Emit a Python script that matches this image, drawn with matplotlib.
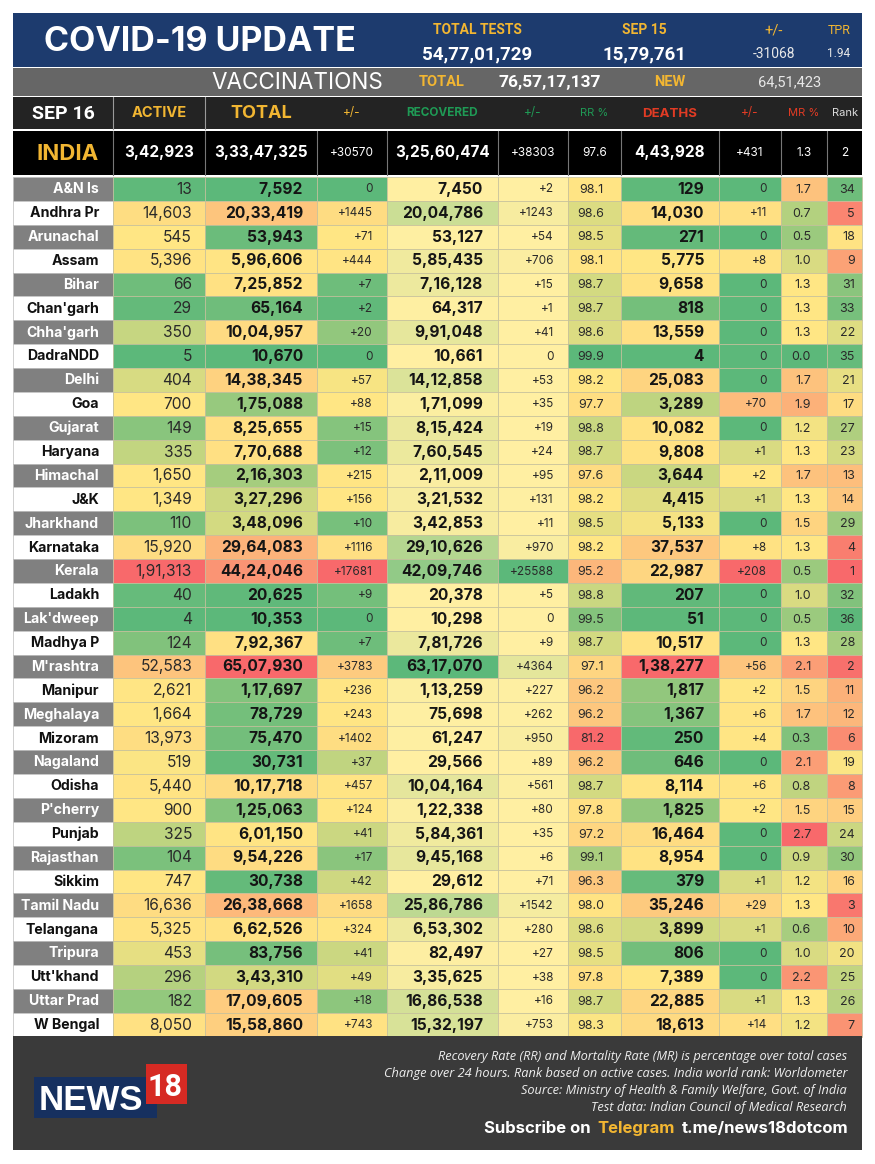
"""COVID-19 state table for India, Sep 16, drawn as heat-coloured cells."""

import matplotlib

matplotlib.use("Agg")
import matplotlib.pyplot as plt
import numpy as np
from matplotlib.colors import LinearSegmentedColormap, TwoSlopeNorm, Normalize
from matplotlib.patches import Rectangle

STATES = ["A&N Is", "Andhra Pr", "Arunachal", "Assam", "Bihar", "Chan'garh", "Chha'garh", "DadraNDD",
          "Delhi", "Goa", "Gujarat", "Haryana", "Himachal", "J&K", "Jharkhand", "Karnataka", "Kerala",
          "Ladakh", "Lak'dweep", "Madhya P", "M'rashtra", "Manipur", "Meghalaya", "Mizoram", "Nagaland",
          "Odisha", "P'cherry", "Punjab", "Rajasthan", "Sikkim", "Tamil Nadu", "Telangana", "Tripura",
          "Utt'khand", "Uttar Prad", "W Bengal"]
ACTIVE = [13, 14603, 545, 5396, 66, 29, 350, 5, 404, 700, 149, 335, 1650, 1349, 110, 15920, 191313,
          40, 4, 124, 52583, 2621, 1664, 13973, 519, 5440, 900, 325, 104, 747, 16636, 5325, 453, 296, 182, 8050]
TOTAL = [7592, 2033419, 53943, 596606, 725852, 65164, 1004957, 10670, 1438345, 175088, 825655, 770688,
         216303, 327296, 348096, 2964083, 4424046, 20625, 10353, 792367, 6507930, 117697, 78729, 75470,
         30731, 1017718, 125063, 601150, 954226, 30738, 2638668, 662526, 83756, 343310, 1709605, 1558860]
TOTAL_CHG = [0, 1445, 71, 444, 7, 2, 20, 0, 57, 88, 15, 12, 215, 156, 10, 1116, 17681, 9, 0, 7, 3783,
             236, 243, 1402, 37, 457, 124, 41, 17, 42, 1658, 324, 41, 49, 18, 743]
RECOVERED = [7450, 2004786, 53127, 585435, 716128, 64317, 991048, 10661, 1412858, 171099, 815424, 760545,
             211009, 321532, 342853, 2910626, 4209746, 20378, 10298, 781726, 6317070, 113259, 75698, 61247,
             29566, 1004164, 122338, 584361, 945168, 29612, 2586786, 653302, 82497, 335625, 1686538, 1532197]
RECOVERED_CHG = [2, 1243, 54, 706, 15, 1, 41, 0, 53, 35, 19, 24, 95, 131, 11, 970, 25588, 5, 0, 9, 4364,
                 227, 262, 950, 89, 561, 80, 35, 6, 71, 1542, 280, 27, 38, 16, 753]
RR = [98.1, 98.6, 98.5, 98.1, 98.7, 98.7, 98.6, 99.9, 98.2, 97.7, 98.8, 98.7, 97.6, 98.2, 98.5, 98.2, 95.2,
      98.8, 99.5, 98.7, 97.1, 96.2, 96.2, 81.2, 96.2, 98.7, 97.8, 97.2, 99.1, 96.3, 98.0, 98.6, 98.5, 97.8, 98.7, 98.3]
DEATHS = [129, 14030, 271, 5775, 9658, 818, 13559, 4, 25083, 3289, 10082, 9808, 3644, 4415, 5133, 37537, 22987,
          207, 51, 10517, 138277, 1817, 1367, 250, 646, 8114, 1825, 16464, 8954, 379, 35246, 3899, 806, 7389,
          22885, 18613]
DEATHS_CHG = [0, 11, 0, 8, 0, 0, 0, 0, 0, 70, 0, 1, 2, 1, 0, 8, 208, 0, 0, 0, 56, 2, 6, 4, 0, 6, 2, 0, 0, 1,
              29, 1, 0, 0, 1, 14]
MR = [1.7, 0.7, 0.5, 1.0, 1.3, 1.3, 1.3, 0.0, 1.7, 1.9, 1.2, 1.3, 1.7, 1.3, 1.5, 1.3, 0.5, 1.0, 0.5, 1.3, 2.1,
      1.5, 1.7, 0.3, 2.1, 0.8, 1.5, 2.7, 0.9, 1.2, 1.3, 0.6, 1.0, 2.2, 1.3, 1.2]
RANK = [34, 5, 18, 9, 31, 33, 22, 35, 21, 17, 27, 23, 13, 14, 29, 4, 1, 32, 36, 28, 2, 11, 12, 6, 19, 8, 15, 24,
        30, 16, 3, 10, 20, 25, 26, 7]

INDIA_ROW = ["3,42,923", "3,33,47,325", "+30570", "3,25,60,474", "+38303", "97.6", "4,43,928", "+431", "1.3", "2"]
COL_HEADERS = ["ACTIVE", "TOTAL", "+/-", "RECOVERED", "+/-", "RR %", "DEATHS", "+/-", "MR %", "Rank"]
FOOTNOTES = ["Recovery Rate (RR) and Mortality Rate (MR) is percentage over total cases",
             "Change over 24 hours. Rank based on active cases. India world rank: Worldometer",
             "Source: Ministry of Health & Family Welfare, Govt. of India",
             "Test data: Indian Council of Medical Research"]

GREEN, YELLOW, RED, PALE = "#5CB87A", "#FFE684", "#F8696B", "#FFEFA2"
GOLD = "#f2b632"
three = LinearSegmentedColormap.from_list("gyr", [GREEN, YELLOW, RED])
three_r = LinearSegmentedColormap.from_list("ryg", [RED, YELLOW, GREEN])
two = LinearSegmentedColormap.from_list("yg", [PALE, GREEN])

NUM = "Inter"
NARROW = ["Liberation Sans Narrow", "Roboto"]
EDGES = [13, 113, 205, 317, 387, 498, 568, 621, 719, 781, 827, 862]
RIGHTS = [192, 303, 373, 483, 554, 604, 704, 767, 811, 855]
ROW_TOP, ROW_H = 177, 23.88


def indian(n):
    s = str(n)
    if len(s) <= 3:
        return s
    head, tail = s[:-3], s[-3:]
    parts = []
    while len(head) > 2:
        parts.insert(0, head[-2:])
        head = head[:-2]
    if head:
        parts.insert(0, head)
    return ",".join(parts) + "," + tail


def signed(n):
    return f"+{n}" if n else "0"


def one_dec(v):
    return f"{v:.1f}"


def three_norm(vals, mid=None, low=None):
    mid = float(np.median(vals)) if mid is None else mid
    return TwoSlopeNorm(vcenter=mid, vmin=min(vals) if low is None else low, vmax=max(vals))


# values, cmap, norm, formatter, size, weight
COLUMNS = [
    (ACTIVE, three, three_norm(ACTIVE), indian, 11.2, "normal"),
    (TOTAL, three, three_norm(TOTAL), indian, 11.2, "bold"),
    (TOTAL_CHG, three, three_norm(TOTAL_CHG, 60), signed, 8.5, "normal"),
    (RECOVERED, two, Normalize(min(RECOVERED), max(RECOVERED)), indian, 11.2, "bold"),
    (RECOVERED_CHG, two, Normalize(min(RECOVERED_CHG), max(RECOVERED_CHG)), signed, 8.5, "normal"),
    (RR, three_r, three_norm(RR, low=90), one_dec, 9, "normal"),
    (DEATHS, three, three_norm(DEATHS), indian, 11.2, "bold"),
    (DEATHS_CHG, three, three_norm(DEATHS_CHG, 1.3), signed, 8.5, "normal"),
    (MR, three, three_norm(MR), one_dec, 9, "normal"),
    (RANK, three_r, three_norm(RANK), str, 9, "normal"),
]

fig = plt.figure(figsize=(8.75, 11.64), dpi=100)
ax = fig.add_axes([0, 0, 1, 1])
ax.set_xlim(0, 875)
ax.set_ylim(1164, 0)
ax.axis("off")


def band(x0, y0, x1, y1, color, edge="none", lw=0, z=1):
    ax.add_patch(Rectangle((x0, y0), x1 - x0, y1 - y0, facecolor=color, edgecolor=edge, linewidth=lw, zorder=z))


def label(x, y, s, color, fs, weight="normal", family=NUM, ha="center", style="normal", z=3):
    # y is the middle of the capitals, so commas and descenders do not shift the line
    ax.text(x, y + 0.36 * fs * 100 / 72, s, color=color, fontsize=fs, fontweight=weight, family=family,
            ha=ha, va="baseline", style=style, zorder=z)


# top banner
band(13, 13, 862, 67, "#1d3b6e")
label(200, 39, "COVID-19 UPDATE", "white", 24.5, "bold")
for x, y, s, c, fs, fw in [
    (477, 29, "TOTAL TESTS", GOLD, 10, "bold"),
    (477, 53, "54,77,01,729", "white", 13.5, "bold"),
    (644, 29, "SEP 15", GOLD, 10, "bold"),
    (644, 53, "15,79,761", "white", 13.5, "bold"),
    (774, 29, "+/-", GOLD, 10.5, "normal"),
    (774, 53, "-31068", "#e8e8e8", 10, "normal"),
    (839, 29, "TPR", GOLD, 9, "normal"),
    (839, 53, "1.94", "#e8e8e8", 8.5, "normal"),
]:
    label(x, y, s, c, fs, fw, NARROW)

# vaccinations band
band(13, 68, 862, 96, "#666666")
label(297, 81, "VACCINATIONS", "white", 16.2)
for x, s, c, fs, fw in [
    (442, "TOTAL", GOLD, 10.5, "bold"),
    (550, "76,57,17,137", "white", 12.5, "bold"),
    (670, "NEW", GOLD, 10.5, "bold"),
    (790, "64,51,423", "#e8e8e8", 10.5, "normal"),
]:
    label(x, 81, s, c, fs, fw, NARROW)

# column header row
band(13, 97, 862, 129, "#232323")
for x in (113, 205):
    ax.plot([x, x], [97, 129], color="#9a9a9a", lw=0.8, zorder=2)
label(63, 112, "SEP 16", "white", 14, "bold", NARROW)
header_x = [159, 261, 352, 442, 533, 594, 670, 750, 804, 845]
header_c = [GOLD, GOLD, GOLD, "#1f9a55", "#1f9a55", "#1f9a55", "#e23b24", "#e23b24", "#e23b24", "#dddddd"]
header_s = [10.5, 13, 8.5, 8.5, 8.5, 8, 9.5, 8.5, 8, 8]
for x, s, c, fs in zip(header_x, COL_HEADERS, header_c, header_s):
    label(x, 112, s, c, fs, "bold" if fs > 8.5 or s == "RECOVERED" else "normal")

# India summary row
band(13, 131, 862, 175, "black")
label(68, 152, "INDIA", GOLD, 16, "bold")
for i, s in enumerate(INDIA_ROW):
    x0, x1 = EDGES[i + 1], EDGES[i + 2]
    ax.plot([x0, x0], [131, 175], color="#777777", lw=0.8, zorder=2)
    big = i in (0, 1, 3, 6)
    label((x0 + x1) / 2, 152, s, "white", 11 if big else 8.5, "bold" if big else "normal")

# state rows
for r, name in enumerate(STATES):
    top = ROW_TOP + r * ROW_H
    mid = top + ROW_H / 2 - 0.7
    shaded = r % 2 == 0
    band(EDGES[0], top, EDGES[1], top + ROW_H, "#808080" if shaded else "white", edge="#bdbdbd", lw=0.5)
    label(99, mid, name, "white" if shaded else "#111111", 10.2, "bold", ha="right")
    for c, (vals, cmap, norm, fmt, fs, fw) in enumerate(COLUMNS):
        band(EDGES[c + 1], top, EDGES[c + 2], top + ROW_H, cmap(norm(vals[r])), edge="#c4bf9a", lw=0.5)
        label(RIGHTS[c], mid, fmt(vals[r]), "#151515" if fw == "bold" else "#2a2a2a", fs, fw, ha="right")

# footer
band(13, 1036, 862, 1150, "#3a3a3a")
for y, s in zip((1055, 1072, 1089, 1106), FOOTNOTES):
    label(847, y, s, "#eeeeee", 9.2, family="Open Sans", ha="right", style="italic")
label(848, 1127, "t.me/news18dotcom", "white", 12, "bold", ha="right")
label(675, 1127, "Telegram", GOLD, 12, "bold", ha="right")
label(591, 1127, "Subscribe on", "white", 12, "bold", ha="right")

# logo
band(34, 1077, 157, 1118, "#16305f", z=2)
band(146, 1064, 187, 1104, "#d62a23", z=3)
label(91, 1097.5, "NEWS", "white", 25, "bold", "Liberation Sans", z=4)
label(165, 1085.5, "18", "white", 22, "bold", NARROW, z=4)

fig.savefig("out.png", dpi=100, facecolor="white")
